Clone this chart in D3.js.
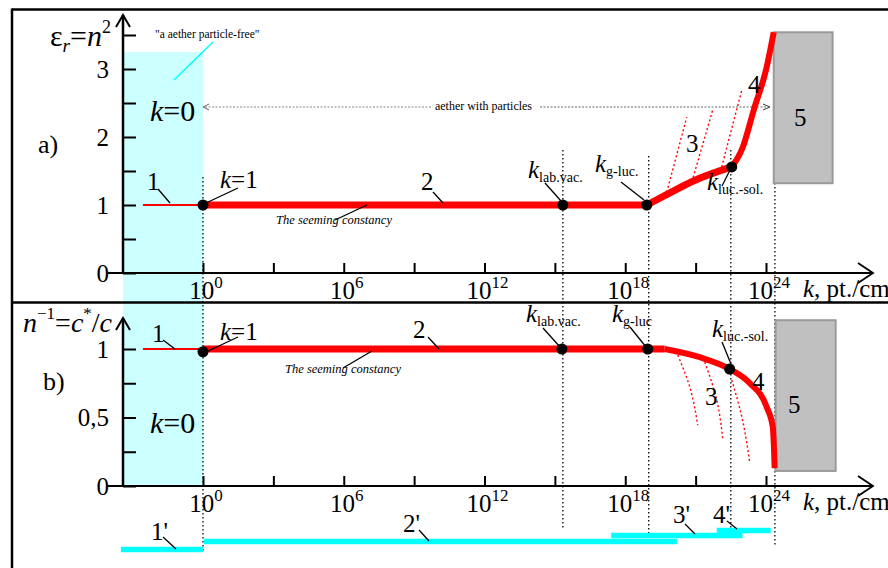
<!DOCTYPE html>
<html><head><meta charset="utf-8">
<script src="https://cdn.jsdelivr.net/npm/d3@7"></script>
</head><body style="margin:0;background:#fff">
<svg id="c" width="888" height="568" style="display:block"></svg>
<script>
// ---------------- DATA (k given as log10 exponents) ----------------
const xTickExps = [0,3,6,9,12,15,18,21,24];
const xLabelExps = [0,6,12,18,24];
const yTicksA = [0,0.5,1,1.5,2,2.5,3,3.5];
const yLabelsA = {"0":"0","1":"1","2":"2","3":"3"};
const yTicksB = [0,0.25,0.5,0.75,1];
const yLabelsB = {"0":"0","0.5":"0,5","1":"1"};

// panel a) eps_r = n^2
const line1A_logk = [-2.56, 0];
const line1A_val  = [1, 1];
const line2A_logk = [0, 18.92];
const line2A_val  = [1, 1];
const seg3A_logk = [18.92, 19.8, 20.88, 22.54];
const seg3A_val  = [1.0, 1.16, 1.35, 1.56];
const curve4A_logk = [22.54, 23.0, 23.48, 24.03, 24.33];
const curve4A_val  = [1.56, 1.84, 2.40, 3.03, 3.54];
const dotsA_logk = [0, 15.34, 18.92, 22.54];
const dotsA_val  = [1, 1, 1.0, 1.56];
const dotted3A = [
  [[19.77,1.19],[20.62,2.29]],
  [[20.84,1.34],[21.73,2.40]],
  [[22.11,1.56],[22.97,2.69]]
];
const box5A_logk = [24.33, 26.84];
const box5A_val  = [1.32, 3.54];

// panel b) n^-1 = c*/c
const line1B_logk = [-2.56, 0];
const line1B_val  = [1, 1];
const line2B_logk = [0, 19.68];
const line2B_val  = [1, 1];
const curve4B_logk = [19.68, 21.18, 22.45, 23.31, 24.03, 24.29, 24.37];
const curve4B_val  = [1.0, 0.94, 0.854, 0.75, 0.577, 0.43, 0.13];
const dotsB_logk = [0, 15.3, 18.96, 22.45];
const dotsB_val  = [0.98, 1, 1, 0.854];
const dotted3B = [
  [[20.24,0.956],[20.75,0.723],[21.09,0.445]],
  [[21.39,0.905],[21.9,0.628],[22.16,0.336]],
  [[22.54,0.774],[22.97,0.504],[23.31,0.168]]
];
const box5B_logk = [24.41, 26.97];
const box5B_val  = [0.11, 1.21];

// special k values (dotted verticals)
const vlineExps = [0, 15.34, 19.0, 22.5, 24.38];

// bottom cyan ranges 1'..4'
const barNames = ["1'","2'","3'","4'"];
const barStart = [-3.5, 0.04, 17.4, 21.9];
const barEnd   = [0, 20.2, 23.0, 24.2];

// ---------------- SCALES ----------------
const FONT = '"Liberation Serif"';
const svg = d3.select("#c");
const x = d3.scaleLog().domain([1, 1e24]).range([203, 766]);
const X = e => x(Math.pow(10, e));
const yA = d3.scaleLinear().domain([0, 3]).range([273, 69]);
const yB = d3.scaleLinear().domain([0, 1]).range([486, 349]);
const AX = 123; // y-axis position

const RED = "#ff0000", CYAN = "#00ffff", BAND = "#ccffff";

// ---------------- BACKGROUND BAND ----------------
svg.append("rect")
  .attr("x", X(-3.41)).attr("width", X(0) - X(-3.41))
  .attr("y", yA(3.25)).attr("height", yB(0) - yA(3.25))
  .attr("fill", BAND);

// frame
svg.append("line").attr("x1",12).attr("x2",888).attr("y1",9.5).attr("y2",9.5).attr("stroke","#000").attr("stroke-width",2.5);
svg.append("line").attr("x1",12).attr("x2",12).attr("y1",8.5).attr("y2",568).attr("stroke","#000").attr("stroke-width",2.5);
svg.append("line").attr("x1",12).attr("x2",888).attr("y1",302.5).attr("y2",302.5).attr("stroke","#000").attr("stroke-width",2.5);

// ---------------- DOTTED VERTICALS ----------------
const vTop = [177, 150, 156, 150, 183];
const vBot = [552, 530, 538, 530, 545];
vlineExps.forEach((e,i)=>{
  svg.append("line").attr("x1",X(e)).attr("x2",X(e)).attr("y1",vTop[i]).attr("y2",vBot[i])
    .attr("stroke","#000").attr("stroke-width",1.3).attr("stroke-dasharray","1.5,2.5");
});

// ---------------- AXES ----------------
function yAxis(scale, ticks, labels, top){
  const g = svg.append("g").attr("transform",`translate(${AX},0)`)
    .call(d3.axisLeft(scale).tickValues(ticks).tickSizeInner(-13).tickSizeOuter(0).tickPadding(14)
      .tickFormat(d => labels[String(d)] || ""));
  g.select(".domain").remove();
  g.selectAll(".tick line").attr("stroke","#000").attr("stroke-width",2);
  g.selectAll(".tick text").attr("font-size",25).attr("fill","#000");
  svg.append("line").attr("x1",AX).attr("x2",AX).attr("y1",scale(0)+1).attr("y2",top)
    .attr("stroke","#000").attr("stroke-width",2.5);
  svg.append("path").attr("d",`M${AX-7},${top+12}L${AX},${top}L${AX+7},${top+12}`)
    .attr("fill","none").attr("stroke","#000").attr("stroke-width",2);
}
function xAxis(y0, labY){
  const g = svg.append("g").attr("transform",`translate(0,${y0})`)
    .call(d3.axisBottom(x).tickValues(xTickExps.map(e=>Math.pow(10,e))).tickSizeInner(-10).tickSizeOuter(0).tickFormat(""));
  g.select(".domain").remove();
  g.selectAll(".tick line").attr("stroke","#000").attr("stroke-width",2);
  svg.append("line").attr("x1",108).attr("x2",872).attr("y1",y0).attr("y2",y0).attr("stroke","#000").attr("stroke-width",2);
  svg.append("path").attr("d",`M858,${y0-10}L873,${y0}L858,${y0+10}`).attr("fill","none").attr("stroke","#000").attr("stroke-width",1.8);
  xLabelExps.forEach(e=>{
    const t = svg.append("text").attr("x",X(e)+3).attr("y",labY).attr("text-anchor","middle").attr("font-size",25);
    t.append("tspan").text("10");
    t.append("tspan").attr("dy",-11).attr("font-size",17).text(e);
  });
  const t = svg.append("text").attr("x",803).attr("y",labY-2).attr("font-size",25);
  t.append("tspan").attr("font-style","italic").text("k");
  t.append("tspan").text(", pt./cm");
  t.append("tspan").attr("dy",-10).attr("font-size",16).text("3");
}
yAxis(yA, yTicksA, yLabelsA, 15);
xAxis(273, 299);
yAxis(yB, yTicksB, yLabelsB, 318);
xAxis(486, 512);

// ---------------- AXIS TITLES & PANEL LABELS ----------------
(function(){
  const t = svg.append("text").attr("x",50).attr("y",46).attr("font-size",30);
  t.append("tspan").text("ε");
  t.append("tspan").attr("font-style","italic").attr("font-size",19).attr("dy",6).text("r");
  t.append("tspan").attr("dy",-6).text("=");
  t.append("tspan").attr("font-style","italic").text("n");
  t.append("tspan").attr("font-size",18).attr("dy",-13).text("2");
  const u = svg.append("text").attr("x",23).attr("y",332).attr("font-size",28);
  u.append("tspan").attr("font-style","italic").text("n");
  u.append("tspan").attr("font-size",17).attr("dy",-13).text("−1");
  u.append("tspan").attr("dy",13).text("=");
  u.append("tspan").attr("font-style","italic").text("c");
  u.append("tspan").attr("font-size",17).attr("dy",-13).text("*");
  u.append("tspan").attr("dy",13).text("/");
  u.append("tspan").attr("font-style","italic").text("c");
  svg.append("text").attr("x",38).attr("y",153).attr("font-size",26).text("a)");
  svg.append("text").attr("x",43).attr("y",390).attr("font-size",26).text("b)");
})();

function kEq(xp, yp, val, size){
  const t = svg.append("text").attr("x",xp).attr("y",yp).attr("font-size",size);
  t.append("tspan").attr("font-style","italic").text("k");
  t.append("tspan").text("=" + val);
}
kEq(150, 121, 0, 30);
kEq(150, 433, 0, 30);

// top annotations
svg.append("text").attr("x",155).attr("y",38).attr("font-size",11.5).text("\"a aether particle-free\"");
svg.append("line").attr("x1",174).attr("y1",80).attr("x2",213).attr("y2",42).attr("stroke",CYAN).attr("stroke-width",1.5);

// aether with particles arrow
svg.append("line").attr("x1",205).attr("x2",432).attr("y1",107).attr("y2",107).attr("stroke","#888").attr("stroke-width",1).attr("stroke-dasharray","2,1.5");
svg.append("line").attr("x1",540).attr("x2",769).attr("y1",107).attr("y2",107).attr("stroke","#666").attr("stroke-width",1).attr("stroke-dasharray","2,1.5");
svg.append("path").attr("d","M209,104L203,107L209,110").attr("fill","none").attr("stroke","#666").attr("stroke-width",1);
svg.append("path").attr("d","M763,104L770,107L763,110").attr("fill","none").attr("stroke","#444").attr("stroke-width",1);
svg.append("text").attr("x",435).attr("y",110).attr("font-size",12).attr("textLength",97).text("aether with particles");

// ---------------- GRAY BOXES (region 5) ----------------
function box(lk, v, ys){
  svg.append("rect").attr("x",X(lk[0])).attr("width",X(lk[1])-X(lk[0]))
    .attr("y",ys(v[1])).attr("height",ys(v[0])-ys(v[1]))
    .attr("fill","#c0c0c0").attr("stroke","#9a9a9a").attr("stroke-width",2);
}
box(box5A_logk, box5A_val, yA);
box(box5B_logk, box5B_val, yB);

// ---------------- CURVES ----------------
function path(lk, v, ys, w, curve){
  const pts = lk.map((e,i)=>[e, v[i]]);
  svg.append("path").datum(pts)
    .attr("d", d3.line().x(d=>X(d[0])).y(d=>ys(d[1])).curve(curve || d3.curveLinear))
    .attr("fill","none").attr("stroke",RED).attr("stroke-width",w).attr("stroke-linecap","butt").attr("stroke-linejoin","round");
}
function dottedSet(set, ys){
  set.forEach(pts=>{
    svg.append("path").datum(pts)
      .attr("d", d3.line().x(d=>X(d[0])).y(d=>ys(d[1])).curve(d3.curveMonotoneY))
      .attr("fill","none").attr("stroke",RED).attr("stroke-width",1.4).attr("stroke-dasharray","2,2.5");
  });
}
dottedSet(dotted3A, yA);
dottedSet(dotted3B, yB);

path(line1A_logk, line1A_val, yA, 2);
path(line2A_logk, line2A_val, yA, 7);
path(seg3A_logk, seg3A_val, yA, 7, d3.curveMonotoneX);
path(curve4A_logk, curve4A_val, yA, 6, d3.curveMonotoneX);
path(line1B_logk, line1B_val, yB, 2);
path(line2B_logk, line2B_val, yB, 7);
path(curve4B_logk, curve4B_val, yB, 6, d3.curveMonotoneX);

function dots(lk, v, ys){
  lk.forEach((e,i)=>svg.append("circle").attr("cx",X(e)).attr("cy",ys(v[i])).attr("r",5.5).attr("fill","#000"));
}
dots(dotsA_logk, dotsA_val, yA);
dots(dotsB_logk, dotsB_val, yB);

// ---------------- LABELS ----------------
function lead(x1,y1,x2,y2,c){
  svg.append("line").attr("x1",x1).attr("y1",y1).attr("x2",x2).attr("y2",y2).attr("stroke",c||"#000").attr("stroke-width",1.3);
}
function num(xp, yp, s, size){
  svg.append("text").attr("x",xp).attr("y",yp).attr("font-size",size||25).text(s);
}
function kSub(xp, yp, sub){
  const t = svg.append("text").attr("x",xp).attr("y",yp).attr("font-size",25);
  t.append("tspan").attr("font-style","italic").text("k");
  t.append("tspan").attr("font-size",14).attr("dy",4).text(sub);
}
function seeming(xp, yp){
  svg.append("text").attr("x",xp).attr("y",yp).attr("font-size",12.5).attr("font-style","italic").text("The seeming constancy");
}

// panel a
num(147,190,"1"); lead(158,189,170,203);
kEq(220,188,1,25); lead(206,203,238,188);
num(421,190,"2"); lead(433,192,443,203);
seeming(276,224); lead(367,205,335,220);
kSub(528,178,"lab.vac."); lead(545,183,561,201);
kSub(595,172,"g-luc."); lead(621,182,644,200);
kSub(707,190,"luc.-sol."); lead(730,170,722,186);
num(686,152,"3"); num(748,93,"4"); num(794,126,"5");

// panel b
num(152,342,"1"); lead(163,340,175,349);
kEq(220,340,1,25); lead(206,352,238,337);
num(413,338,"2"); lead(428,337,439,349);
seeming(285,373); lead(372,351,343,368);
kSub(526,322,"lab.vac."); lead(543,328,560,347);
kSub(612,322,"g-luc"); lead(630,327,646,347);
kSub(712,337,"luc.-sol."); lead(722,342,731,364);
num(705,405,"3"); num(752,390,"4"); num(788,413,"5");

// ---------------- BOTTOM CYAN RANGES ----------------
const barY = [549.5, 541.5, 535.5, 530.5];
barNames.forEach((n,i)=>{
  svg.append("line").attr("x1",X(barStart[i])).attr("x2",X(barEnd[i])).attr("y1",barY[i]).attr("y2",barY[i])
    .attr("stroke",CYAN).attr("stroke-width",5.5);
});
num(151,540,"1'"); lead(163,537,176,549);
num(403,532,"2'"); lead(419,530,429,541);
num(673,523,"3'"); lead(685,524,695,534);
num(713,523,"4'"); lead(727,521,737,529);

// force serif font on every text
svg.selectAll("text").style("font-family", FONT).attr("fill","#000");
</script>
</body></html>
